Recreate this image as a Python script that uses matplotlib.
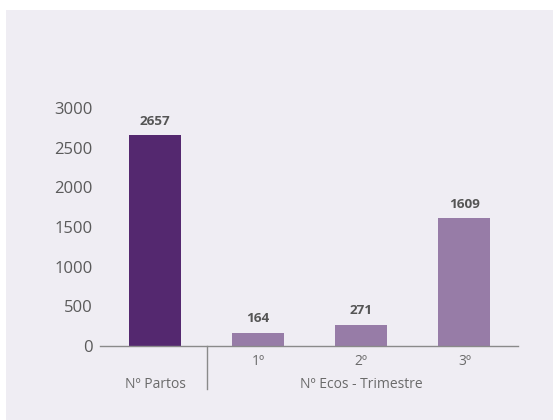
import matplotlib
matplotlib.use("Agg")
import matplotlib.pyplot as plt
from matplotlib.patches import Rectangle
import matplotlib.transforms as mtransforms

categories = ["Nº Partos", "1º", "2º", "3º"]
values = [2657, 164, 271, 1609]
group_label = "Nº Ecos - Trimestre"
yticks = [0, 500, 1000, 1500, 2000, 2500, 3000]

W, H = 553, 420
fig = plt.figure(figsize=(W / 100, H / 100), dpi=100, facecolor="white")
plt.rcParams["font.family"] = ["Open Sans", "DejaVu Sans"]

bg = "#efedf3"
fig.patches.append(Rectangle((6 / W, 0), 1 - 6 / W, 1 - 10 / H, transform=fig.transFigure,
                             facecolor=bg, edgecolor="none", zorder=-10))

ax = fig.add_axes([100 / W, 1 - 346 / H, 418 / W, 238 / H])
ax.set_facecolor("none")

colors = ["#54286f", "#977ca7", "#977ca7", "#977ca7"]
x = list(range(len(values)))
bars = ax.bar(x, values, width=0.505, color=colors, zorder=2)
for xi, v in zip(x, values):
    ax.annotate(str(v), (xi, v), xytext=(0, 5.5), textcoords="offset points",
                ha="center", va="bottom", fontsize=9.7, fontweight="bold", color="#555555")

ax.set_xlim(-0.534, 3.52)
ax.set_ylim(0, 3000)
ax.set_yticks(yticks)
ax.set_yticklabels([str(t) for t in yticks], fontsize=12, color="#5a5a5a")
ax.tick_params(axis="y", length=0, pad=5.5)

ax.set_xticks(x[1:])
ax.set_xticklabels(categories[1:], fontsize=10, color="#6a6a6a")
ax.tick_params(axis="x", length=0, pad=6)

for s in ["top", "right", "left"]:
    ax.spines[s].set_visible(False)
ax.spines["bottom"].set_color("#8a8a8a")
ax.spines["bottom"].set_linewidth(1.0)

trans = mtransforms.blended_transform_factory(ax.transData, ax.transAxes)
ax.text(0, -38 / 238, categories[0], transform=trans, ha="center", va="center",
        fontsize=10, color="#6a6a6a")
ax.text(2, -38 / 238, group_label, transform=trans, ha="center", va="center",
        fontsize=10, color="#6a6a6a")
ax.plot([0.5, 0.5], [0, -43 / 238], transform=trans, color="#8a8a8a", lw=1.0, clip_on=False)

fig.savefig("out.png", dpi=100, facecolor=fig.get_facecolor())
